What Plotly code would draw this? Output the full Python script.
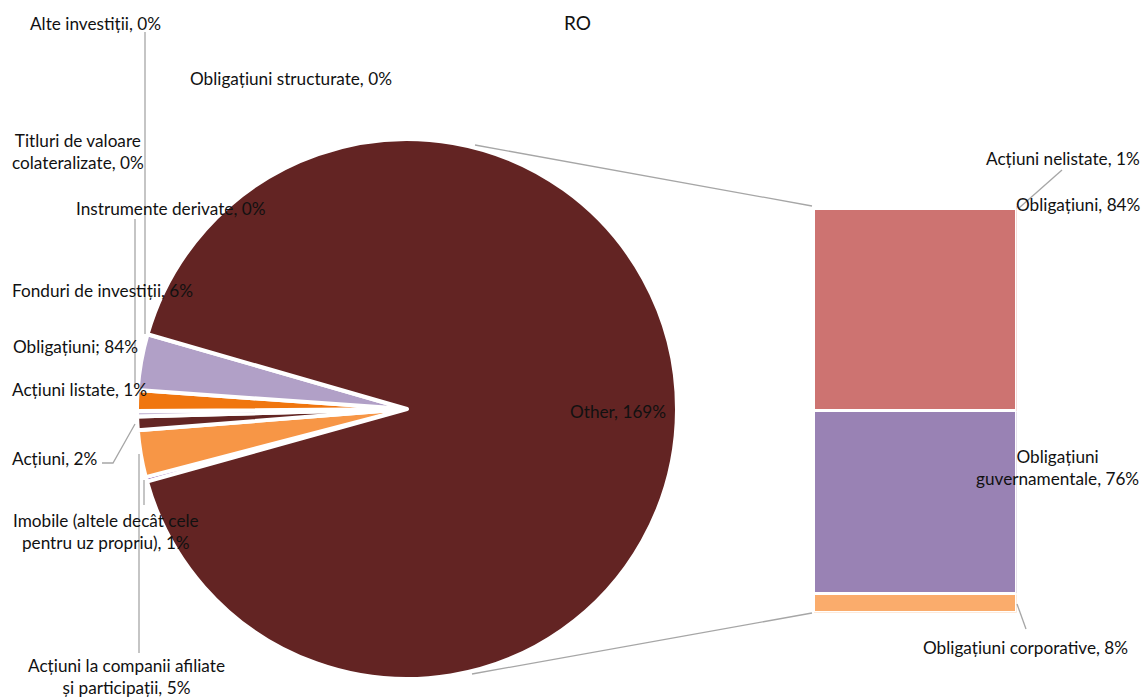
import plotly.graph_objects as go

# ---------------- data ----------------
pie_labels = ["Imobile (altele decât cele pentru uz propriu)",
              "Acțiuni la companii afiliate și participații",
              "Acțiuni", "Instrumente derivate", "Acțiuni listate",
              "Fonduri de investiții", "Other"]
pie_values = [0.5, 5.2, 1.5, 0.6, 2.3, 6.2, 169]
pie_colors = ["#7030A0", "#F79646", "#632523", "#CCC0DA", "#F0760F", "#B1A0C7", "#632423"]

bar_labels = ["Obligațiuni corporative", "Obligațiuni guvernamentale", "Obligațiuni", "Acțiuni nelistate"]
bar_values = [8, 76, 84, 1]
bar_colors = ["#FAAC6C", "#9982B4", "#CD7371", "#C0504D"]

W, H = 1143, 698
def px(x, y):
    return x / W, 1 - y / H

fig = go.Figure()

# pie: centre (407,409), radius 270
fig.add_trace(go.Pie(
    labels=pie_labels, values=pie_values, sort=False, direction="clockwise",
    rotation=254.4, marker=dict(colors=pie_colors, line=dict(color="white", width=4)),
    textinfo="none", hoverinfo="label+value", showlegend=False,
    domain=dict(x=[137 / W, 677 / W], y=[1 - 679 / H, 1 - 139 / H])))

# stacked bar
for lab, val, col in zip(bar_labels, bar_values, bar_colors):
    fig.add_trace(go.Bar(x=[0], y=[val], name=lab, width=1,
                         marker=dict(color=col, line=dict(color="white", width=3)),
                         xaxis="x", yaxis="y", showlegend=False))

fig.update_layout(
    barmode="stack", width=W, height=H,
    margin=dict(l=0, r=0, t=0, b=0),
    paper_bgcolor="white", plot_bgcolor="white",
    xaxis=dict(domain=[813.5 / W, 1016.5 / W], range=[-0.5, 0.5], visible=False, fixedrange=True),
    yaxis=dict(domain=[1 - 612.5 / H, 1 - 206.1 / H], range=[0, sum(bar_values)], visible=False, fixedrange=True),
)

# leader / connector lines
line_col = "#A6A6A6"
segments = [
    [(475, 145), (812, 206)],
    [(472, 674), (812, 613)],
    [(145, 32), (145, 334)],
    [(135, 219), (135, 387)],
    [(102, 463), (113, 463), (135, 424)],
    [(139, 454), (139, 653)],
    [(144, 480), (144, 505)],
    [(1062, 170), (1019, 208)],
    [(1017, 604), (1026, 629)],
]
for seg in segments:
    pts = [px(*p) for p in seg]
    path = "M " + " L ".join(f"{a},{b}" for a, b in pts)
    fig.add_shape(type="path", path=path, xref="paper", yref="paper",
                  line=dict(color=line_col, width=1.3))

# labels
FONT = "Lato"
FS = 17.2
labels = [
    ("RO", 577, 22, 19),
    ("Alte investiții, 0%", 95, 23, FS),
    ("Obligațiuni structurate, 0%", 291, 78, FS),
    ("Titluri de valoare<br>colateralizate, 0%", 78, 151, FS),
    ("Instrumente derivate, 0%", 171, 209, FS),
    ("Fonduri de investiții, 6%", 102, 291, FS),
    ("Obligațiuni; 84%", 75, 346, FS),
    ("Acțiuni listate, 1%", 79, 389, FS),
    ("Acțiuni, 2%", 54, 458, FS),
    ("Imobile (altele decât cele<br>pentru uz propriu), 1%", 106, 531, FS),
    ("Acțiuni la companii afiliate<br>și participații, 5%", 126, 676, FS),
    ("Other, 169%", 618, 411, FS),
    ("Acțiuni nelistate, 1%", 1063, 158, FS),
    ("Obligațiuni, 84%", 1078, 205, FS),
    ("Obligațiuni<br>guvernamentale, 76%", 1057, 467, FS),
    ("Obligațiuni corporative, 8%", 1025, 647, FS),
]
for txt, x, y, fs in labels:
    ax, ay = px(x, y)
    fig.add_annotation(text=txt, x=ax, y=ay, xref="paper", yref="paper",
                       xanchor="center", yanchor="middle", showarrow=False,
                       align="center", font=dict(family=FONT, size=fs, color="#111111"))

fig.write_html("out.html")
